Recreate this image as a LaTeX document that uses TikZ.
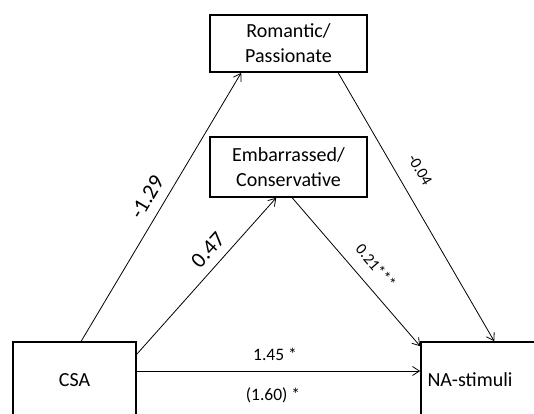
\documentclass[tikz,border=0pt]{standalone}
\usepackage{fontspec}
\setmainfont{Carlito}
\usetikzlibrary{arrows.meta,calc}
\begin{document}
\begin{tikzpicture}[x=1pt,y=-1pt,
  box/.style={draw, line width=1.6pt, inner sep=0pt, align=center,
              font=\fontsize{20}{25}\selectfont},
  conn/.style={line width=0.8pt, -{Straight Barb[length=7pt,width=9pt,line width=0.8pt]}},
  biglab/.style={font=\fontsize{22}{26}\selectfont, inner sep=0pt},
  smalllab/.style={font=\fontsize{16}{19}\selectfont, inner sep=0pt},
  midlab/.style={font=\fontsize{17.5}{21}\selectfont, inner sep=0pt}
]
\useasboundingbox (0,0) rectangle (534,413);
\fill[white] (0,0) rectangle (534,413);

\node[box, minimum width=157pt, minimum height=57pt] (rom) at (288.5,43.5) {Romantic/\\Passionate};
\node[box, minimum width=157pt, minimum height=60pt] (emb) at (288.5,167) {Embarrassed/\\Conservative};
\node[box, minimum width=123pt, minimum height=76pt] (csa) at (74.5,380) {CSA};
\node[box, minimum width=124pt, minimum height=76pt] (na) at (483,380) {};
\node[box, draw=none] (natext) at (470,380) {NA-stimuli};

\draw[conn] ([xshift=69pt]csa.north west) -- ([xshift=32pt]rom.south west);
\draw[conn] ([yshift=-13pt]csa.north east) -- ([xshift=67pt]emb.south west);
\draw[conn] ([xshift=83pt]emb.south west) -- ([yshift=-5pt]na.north west);
\draw[conn] ([xshift=129pt]rom.south west) -- ([xshift=74pt]na.north west);
\draw[conn] ([yshift=9pt]csa.east) -- ([yshift=9pt]na.west);

\node[biglab, rotate=59.3] (l1) at (147,197) {-1.29};
\node[biglab, rotate=48] (l2) at (208,250) {0.47};
\node[smalllab, rotate=-60] (l3) at (420,170) {-0.04};
\node[smalllab, rotate=-49.5] (l4) at (376,266) {0.21***};
\node[midlab] (l5) at (275,354) {1.45 *};
\node[midlab] (l6) at (273,395) {(1.60) *};
\end{tikzpicture}
\end{document}
